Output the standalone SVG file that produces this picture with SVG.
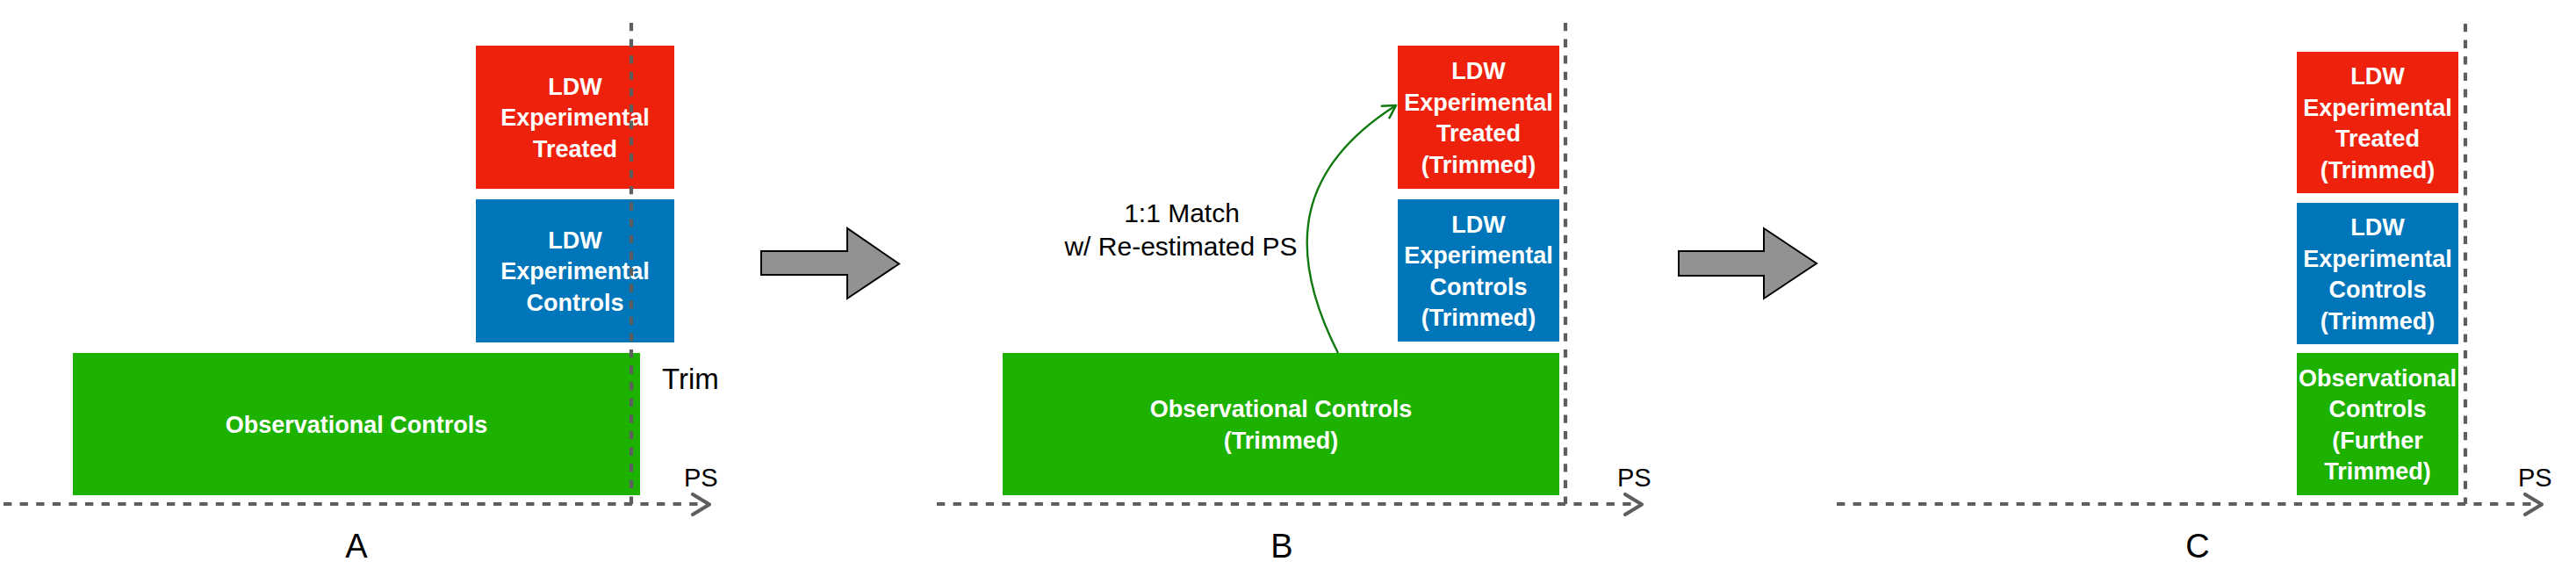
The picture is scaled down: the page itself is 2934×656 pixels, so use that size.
<svg xmlns="http://www.w3.org/2000/svg" width="2934" height="656" viewBox="0 0 2934 656">
<defs>
<style>
.red{fill:#EE220C}
.blue{fill:#0076BA}
.green{fill:#1DB100}
.lbl{font-family:"Liberation Sans",Arial,sans-serif;font-weight:bold;font-size:27px;fill:#FFFFFF;text-anchor:middle}
.txt{font-family:"Liberation Sans",Arial,sans-serif;fill:#000000}
.axis{fill:none;stroke:#5E5E5E;stroke-width:4.2;stroke-dasharray:9.3 9.3}
.vline{fill:none;stroke:#5E5E5E;stroke-width:4.2;stroke-dasharray:9.3 9.3}
.chev{fill:none;stroke:#5E5E5E;stroke-width:4.2;stroke-linecap:round;stroke-linejoin:round}
.block{fill:#929292;stroke:#000000;stroke-width:2}
.match{fill:none;stroke:#107A10;stroke-width:2.4}
</style>
<marker id="ga" markerUnits="userSpaceOnUse" markerWidth="24" markerHeight="24" viewBox="-20 -12 24 24" refX="0" refY="0" orient="auto">
<path d="M-14,-8 L0,0 L-14,8" fill="none" stroke="#107A10" stroke-width="2.6" stroke-linecap="round" stroke-linejoin="round"/>
</marker>
</defs>

<g id="panelA">
<g id="a-treated"><rect class="red" x="542" y="52" width="226" height="163"/>
<text class="lbl" x="655" y="107.7">LDW</text><text class="lbl" x="655" y="143.2">Experimental</text><text class="lbl" x="655" y="178.7">Treated</text></g>
<g id="a-expcontrols"><rect class="blue" x="542" y="227" width="226" height="163"/>
<text class="lbl" x="655" y="282.7">LDW</text><text class="lbl" x="655" y="318.2">Experimental</text><text class="lbl" x="655" y="353.7">Controls</text></g>
<g id="a-obscontrols"><rect class="green" x="83" y="402" width="646" height="162"/>
<text class="lbl" x="406" y="492.7">Observational Controls</text></g>
<text class="txt" x="754" y="443" font-size="33">Trim</text>
<text class="txt" x="779" y="554" font-size="29">PS</text>
<text class="txt" x="406" y="635" font-size="38" text-anchor="middle">A</text>
</g>

<g id="arrow1"><polygon class="block" points="867,286 965,286 965,260 1024,300.5 965,340 965,313 867,313"/></g>

<g id="panelB">
<g id="b-treated"><rect class="red" x="1592" y="52" width="184" height="163"/>
<text class="lbl" x="1684" y="90">LDW</text><text class="lbl" x="1684" y="125.5">Experimental</text><text class="lbl" x="1684" y="161">Treated</text><text class="lbl" x="1684" y="196.5">(Trimmed)</text></g>
<g id="b-expcontrols"><rect class="blue" x="1592" y="227" width="184" height="162"/>
<text class="lbl" x="1684" y="264.5">LDW</text><text class="lbl" x="1684" y="300">Experimental</text><text class="lbl" x="1684" y="335.5">Controls</text><text class="lbl" x="1684" y="371">(Trimmed)</text></g>
<g id="b-obscontrols"><rect class="green" x="1142" y="402" width="634" height="162"/>
<text class="lbl" x="1459" y="475">Observational Controls</text><text class="lbl" x="1459" y="510.5">(Trimmed)</text></g>
<text class="txt" x="1346" y="253" font-size="30" text-anchor="middle">1:1 Match</text>
<text class="txt" x="1345" y="291" font-size="30" text-anchor="middle">w/ Re-estimated PS</text>
<text class="txt" x="1842" y="554" font-size="29">PS</text>
<text class="txt" x="1460" y="635" font-size="38" text-anchor="middle">B</text>
</g>

<g id="arrow2"><polygon class="block" points="1912,286 2009,286 2009,260 2069,300 2009,340 2009,314 1912,314"/></g>

<g id="panelC">
<g id="c-treated"><rect class="red" x="2616" y="59" width="184" height="161"/>
<text class="lbl" x="2708" y="96">LDW</text><text class="lbl" x="2708" y="131.5">Experimental</text><text class="lbl" x="2708" y="167">Treated</text><text class="lbl" x="2708" y="202.5">(Trimmed)</text></g>
<g id="c-expcontrols"><rect class="blue" x="2616" y="231" width="184" height="161"/>
<text class="lbl" x="2708" y="268">LDW</text><text class="lbl" x="2708" y="303.5">Experimental</text><text class="lbl" x="2708" y="339">Controls</text><text class="lbl" x="2708" y="374.5">(Trimmed)</text></g>
<g id="c-obscontrols"><rect class="green" x="2616" y="402" width="184" height="162"/>
<text class="lbl" x="2708" y="439.5">Observational</text><text class="lbl" x="2708" y="475">Controls</text><text class="lbl" x="2708" y="510.5">(Further</text><text class="lbl" x="2708" y="546">Trimmed)</text></g>
<text class="txt" x="2868" y="554" font-size="29">PS</text>
<text class="txt" x="2503" y="635" font-size="38" text-anchor="middle">C</text>
</g>

<g id="connectors">
<path class="axis" d="M4,574 H806"/>
<path class="chev" d="M789,563 L808,574.5 L789,586"/>
<path class="axis" d="M1067,574 H1868"/>
<path class="chev" d="M1851,563 L1870,574.5 L1851,586"/>
<path class="axis" d="M2092,574 H2893"/>
<path class="chev" d="M2876,563 L2895,574.5 L2876,586"/>
<path class="vline" d="M719,26 V574"/>
<path class="vline" d="M1783,26 V574"/>
<path class="vline" d="M2808,27 V574"/>
<path class="match" d="M1524,402 C1462,280 1480,190 1590,120" marker-end="url(#ga)"/>
</g>
</svg>
